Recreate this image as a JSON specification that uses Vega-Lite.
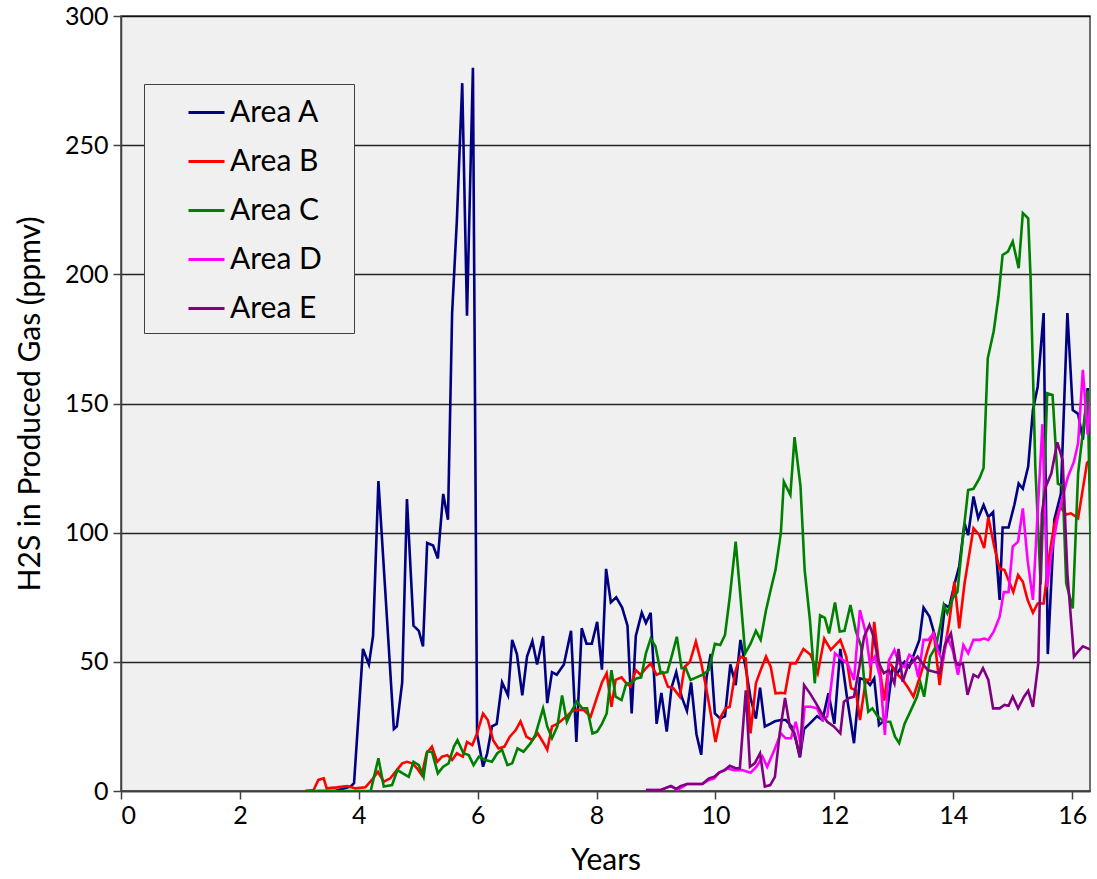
{
"$schema": "https://vega.github.io/schema/vega-lite/v6.json",
"width": 969, "height": 775,
"autosize": {"type": "none"},
"padding": {"left": 121, "top": 16, "right": 7, "bottom": 88},
"background": "white",
"config": {"view": {"fill": "#f0f0f0", "stroke": "#404040", "strokeWidth": 1.5}, "font": "Lato"},
"data": {"values": [
{"area":"Area A","years":3.3,"ppmv":0},{"area":"Area A","years":3.6,"ppmv":0},{"area":"Area A","years":3.86,"ppmv":1.7},{"area":"Area A","years":3.92,"ppmv":3},{"area":"Area A","years":4.07,"ppmv":55},{"area":"Area A","years":4.17,"ppmv":49},{"area":"Area A","years":4.24,"ppmv":60},{"area":"Area A","years":4.33,"ppmv":120},{"area":"Area A","years":4.59,"ppmv":24},{"area":"Area A","years":4.64,"ppmv":25},{"area":"Area A","years":4.73,"ppmv":42},{"area":"Area A","years":4.81,"ppmv":113},{"area":"Area A","years":4.92,"ppmv":64},{"area":"Area A","years":5.01,"ppmv":62},{"area":"Area A","years":5.08,"ppmv":56},{"area":"Area A","years":5.15,"ppmv":96},{"area":"Area A","years":5.25,"ppmv":95},{"area":"Area A","years":5.33,"ppmv":90},{"area":"Area A","years":5.42,"ppmv":115},{"area":"Area A","years":5.5,"ppmv":105},{"area":"Area A","years":5.57,"ppmv":185},{"area":"Area A","years":5.65,"ppmv":221},{"area":"Area A","years":5.74,"ppmv":274},{"area":"Area A","years":5.82,"ppmv":184},{"area":"Area A","years":5.92,"ppmv":280},{"area":"Area A","years":5.99,"ppmv":22},{"area":"Area A","years":6.09,"ppmv":9.4},{"area":"Area A","years":6.16,"ppmv":14.6},{"area":"Area A","years":6.24,"ppmv":25},{"area":"Area A","years":6.32,"ppmv":26},{"area":"Area A","years":6.41,"ppmv":42},{"area":"Area A","years":6.51,"ppmv":37},{"area":"Area A","years":6.58,"ppmv":58.5},{"area":"Area A","years":6.66,"ppmv":53},{"area":"Area A","years":6.75,"ppmv":37},{"area":"Area A","years":6.83,"ppmv":52},{"area":"Area A","years":6.92,"ppmv":58},{"area":"Area A","years":7.0,"ppmv":49},{"area":"Area A","years":7.1,"ppmv":60},{"area":"Area A","years":7.17,"ppmv":34},{"area":"Area A","years":7.25,"ppmv":46},{"area":"Area A","years":7.33,"ppmv":45},{"area":"Area A","years":7.45,"ppmv":49},{"area":"Area A","years":7.57,"ppmv":62},{"area":"Area A","years":7.66,"ppmv":19},{"area":"Area A","years":7.75,"ppmv":63},{"area":"Area A","years":7.83,"ppmv":57},{"area":"Area A","years":7.92,"ppmv":57},{"area":"Area A","years":8.01,"ppmv":65.5},{"area":"Area A","years":8.09,"ppmv":47},{"area":"Area A","years":8.16,"ppmv":86},{"area":"Area A","years":8.24,"ppmv":73},{"area":"Area A","years":8.33,"ppmv":75},{"area":"Area A","years":8.43,"ppmv":71},{"area":"Area A","years":8.52,"ppmv":64},{"area":"Area A","years":8.59,"ppmv":30},{"area":"Area A","years":8.66,"ppmv":60},{"area":"Area A","years":8.76,"ppmv":69},{"area":"Area A","years":8.83,"ppmv":65},{"area":"Area A","years":8.91,"ppmv":69},{"area":"Area A","years":9.01,"ppmv":26},{"area":"Area A","years":9.09,"ppmv":38},{"area":"Area A","years":9.18,"ppmv":23},{"area":"Area A","years":9.26,"ppmv":40},{"area":"Area A","years":9.34,"ppmv":46},{"area":"Area A","years":9.43,"ppmv":36.5},{"area":"Area A","years":9.52,"ppmv":31},{"area":"Area A","years":9.59,"ppmv":42},{"area":"Area A","years":9.68,"ppmv":22},{"area":"Area A","years":9.76,"ppmv":14},{"area":"Area A","years":9.85,"ppmv":44},{"area":"Area A","years":9.92,"ppmv":53},{"area":"Area A","years":9.99,"ppmv":30},{"area":"Area A","years":10.08,"ppmv":28},{"area":"Area A","years":10.16,"ppmv":29},{"area":"Area A","years":10.25,"ppmv":49},{"area":"Area A","years":10.34,"ppmv":41},{"area":"Area A","years":10.42,"ppmv":58.5},{"area":"Area A","years":10.51,"ppmv":47.5},{"area":"Area A","years":10.59,"ppmv":36},{"area":"Area A","years":10.68,"ppmv":28},{"area":"Area A","years":10.75,"ppmv":40},{"area":"Area A","years":10.83,"ppmv":25},{"area":"Area A","years":10.92,"ppmv":26},{"area":"Area A","years":11.0,"ppmv":27},{"area":"Area A","years":11.1,"ppmv":27.5},{"area":"Area A","years":11.18,"ppmv":27.5},{"area":"Area A","years":11.28,"ppmv":25},{"area":"Area A","years":11.35,"ppmv":20},{"area":"Area A","years":11.42,"ppmv":13},{"area":"Area A","years":11.49,"ppmv":24},{"area":"Area A","years":11.58,"ppmv":26},{"area":"Area A","years":11.71,"ppmv":29},{"area":"Area A","years":11.8,"ppmv":27.5},{"area":"Area A","years":11.9,"ppmv":37.8},{"area":"Area A","years":12.0,"ppmv":26},{"area":"Area A","years":12.1,"ppmv":55},{"area":"Area A","years":12.22,"ppmv":35},{"area":"Area A","years":12.33,"ppmv":18.5},{"area":"Area A","years":12.43,"ppmv":43.6},{"area":"Area A","years":12.53,"ppmv":43},{"area":"Area A","years":12.6,"ppmv":41},{"area":"Area A","years":12.67,"ppmv":43.6},{"area":"Area A","years":12.75,"ppmv":25.5},{"area":"Area A","years":12.87,"ppmv":28},{"area":"Area A","years":12.98,"ppmv":48},{"area":"Area A","years":13.06,"ppmv":45.6},{"area":"Area A","years":13.18,"ppmv":50},{"area":"Area A","years":13.26,"ppmv":48},{"area":"Area A","years":13.34,"ppmv":53},{"area":"Area A","years":13.43,"ppmv":58.5},{"area":"Area A","years":13.5,"ppmv":71},{"area":"Area A","years":13.6,"ppmv":67.5},{"area":"Area A","years":13.68,"ppmv":61},{"area":"Area A","years":13.77,"ppmv":53},{"area":"Area A","years":13.86,"ppmv":72},{"area":"Area A","years":13.93,"ppmv":71},{"area":"Area A","years":14.02,"ppmv":80},{"area":"Area A","years":14.1,"ppmv":87},{"area":"Area A","years":14.19,"ppmv":103.6},{"area":"Area A","years":14.25,"ppmv":99},{"area":"Area A","years":14.34,"ppmv":114},{"area":"Area A","years":14.42,"ppmv":105.6},{"area":"Area A","years":14.51,"ppmv":110.7},{"area":"Area A","years":14.59,"ppmv":106},{"area":"Area A","years":14.67,"ppmv":108},{"area":"Area A","years":14.78,"ppmv":74},{"area":"Area A","years":14.83,"ppmv":102},{"area":"Area A","years":14.93,"ppmv":102},{"area":"Area A","years":15.03,"ppmv":111},{"area":"Area A","years":15.1,"ppmv":119},{"area":"Area A","years":15.17,"ppmv":117},{"area":"Area A","years":15.26,"ppmv":125.6},{"area":"Area A","years":15.34,"ppmv":147.5},{"area":"Area A","years":15.42,"ppmv":156.5},{"area":"Area A","years":15.52,"ppmv":185},{"area":"Area A","years":15.59,"ppmv":53},{"area":"Area A","years":15.7,"ppmv":105},{"area":"Area A","years":15.81,"ppmv":115},{"area":"Area A","years":15.92,"ppmv":185},{"area":"Area A","years":16.01,"ppmv":147.5},{"area":"Area A","years":16.1,"ppmv":146},{"area":"Area A","years":16.18,"ppmv":136},{"area":"Area A","years":16.26,"ppmv":156},{"area":"Area A","years":16.32,"ppmv":125},
{"area":"Area B","years":3.1,"ppmv":0},{"area":"Area B","years":3.24,"ppmv":0.4},{"area":"Area B","years":3.32,"ppmv":4.3},{"area":"Area B","years":3.41,"ppmv":4.9},{"area":"Area B","years":3.46,"ppmv":1},{"area":"Area B","years":3.63,"ppmv":1.4},{"area":"Area B","years":3.8,"ppmv":1.9},{"area":"Area B","years":3.95,"ppmv":1},{"area":"Area B","years":4.11,"ppmv":1.4},{"area":"Area B","years":4.22,"ppmv":4.3},{"area":"Area B","years":4.32,"ppmv":7.5},{"area":"Area B","years":4.42,"ppmv":3.6},{"area":"Area B","years":4.53,"ppmv":4.9},{"area":"Area B","years":4.64,"ppmv":8.1},{"area":"Area B","years":4.73,"ppmv":10.7},{"area":"Area B","years":4.81,"ppmv":11.3},{"area":"Area B","years":4.9,"ppmv":10.7},{"area":"Area B","years":4.98,"ppmv":8.8},{"area":"Area B","years":5.06,"ppmv":6.2},{"area":"Area B","years":5.14,"ppmv":14.6},{"area":"Area B","years":5.23,"ppmv":17.2},{"area":"Area B","years":5.32,"ppmv":11.3},{"area":"Area B","years":5.4,"ppmv":13.3},{"area":"Area B","years":5.49,"ppmv":13.9},{"area":"Area B","years":5.57,"ppmv":12},{"area":"Area B","years":5.65,"ppmv":14.6},{"area":"Area B","years":5.75,"ppmv":13.3},{"area":"Area B","years":5.82,"ppmv":19},{"area":"Area B","years":5.91,"ppmv":17.8},{"area":"Area B","years":5.99,"ppmv":22.3},{"area":"Area B","years":6.09,"ppmv":30},{"area":"Area B","years":6.17,"ppmv":27.5},{"area":"Area B","years":6.26,"ppmv":19.7},{"area":"Area B","years":6.35,"ppmv":16.5},{"area":"Area B","years":6.45,"ppmv":17.2},{"area":"Area B","years":6.54,"ppmv":21},{"area":"Area B","years":6.64,"ppmv":23.6},{"area":"Area B","years":6.72,"ppmv":27},{"area":"Area B","years":6.82,"ppmv":21},{"area":"Area B","years":6.92,"ppmv":19.7},{"area":"Area B","years":7.01,"ppmv":22.3},{"area":"Area B","years":7.11,"ppmv":18.5},{"area":"Area B","years":7.17,"ppmv":16},{"area":"Area B","years":7.25,"ppmv":25},{"area":"Area B","years":7.34,"ppmv":26},{"area":"Area B","years":7.42,"ppmv":27.5},{"area":"Area B","years":7.5,"ppmv":29},{"area":"Area B","years":7.59,"ppmv":31},{"area":"Area B","years":7.67,"ppmv":31.4},{"area":"Area B","years":7.78,"ppmv":31.4},{"area":"Area B","years":7.9,"ppmv":28.8},{"area":"Area B","years":8.01,"ppmv":36.5},{"area":"Area B","years":8.09,"ppmv":42},{"area":"Area B","years":8.17,"ppmv":45.6},{"area":"Area B","years":8.25,"ppmv":32.6},{"area":"Area B","years":8.32,"ppmv":43},{"area":"Area B","years":8.42,"ppmv":44},{"area":"Area B","years":8.5,"ppmv":41.7},{"area":"Area B","years":8.57,"ppmv":40.4},{"area":"Area B","years":8.66,"ppmv":46.8},{"area":"Area B","years":8.74,"ppmv":45},{"area":"Area B","years":8.83,"ppmv":47.5},{"area":"Area B","years":8.91,"ppmv":49.4},{"area":"Area B","years":9.01,"ppmv":45},{"area":"Area B","years":9.11,"ppmv":46},{"area":"Area B","years":9.2,"ppmv":40.4},{"area":"Area B","years":9.29,"ppmv":39.8},{"area":"Area B","years":9.4,"ppmv":36.5},{"area":"Area B","years":9.48,"ppmv":48},{"area":"Area B","years":9.57,"ppmv":50},{"area":"Area B","years":9.67,"ppmv":57.8},{"area":"Area B","years":9.75,"ppmv":50.7},{"area":"Area B","years":9.84,"ppmv":40.4},{"area":"Area B","years":9.92,"ppmv":30},{"area":"Area B","years":10.0,"ppmv":19},{"area":"Area B","years":10.09,"ppmv":28.8},{"area":"Area B","years":10.17,"ppmv":32},{"area":"Area B","years":10.24,"ppmv":32.6},{"area":"Area B","years":10.34,"ppmv":46.8},{"area":"Area B","years":10.42,"ppmv":52},{"area":"Area B","years":10.51,"ppmv":51.3},{"area":"Area B","years":10.59,"ppmv":22.3},{"area":"Area B","years":10.68,"ppmv":41.7},{"area":"Area B","years":10.76,"ppmv":46.8},{"area":"Area B","years":10.85,"ppmv":52},{"area":"Area B","years":10.93,"ppmv":48},{"area":"Area B","years":11.01,"ppmv":37.8},{"area":"Area B","years":11.1,"ppmv":38},{"area":"Area B","years":11.17,"ppmv":37.8},{"area":"Area B","years":11.26,"ppmv":49.4},{"area":"Area B","years":11.35,"ppmv":49.4},{"area":"Area B","years":11.48,"ppmv":55},{"area":"Area B","years":11.6,"ppmv":52.7},{"area":"Area B","years":11.72,"ppmv":45.6},{"area":"Area B","years":11.83,"ppmv":59},{"area":"Area B","years":11.94,"ppmv":54.6},{"area":"Area B","years":12.1,"ppmv":58.5},{"area":"Area B","years":12.2,"ppmv":52},{"area":"Area B","years":12.28,"ppmv":39.8},{"area":"Area B","years":12.36,"ppmv":39},{"area":"Area B","years":12.43,"ppmv":27.5},{"area":"Area B","years":12.53,"ppmv":43},{"area":"Area B","years":12.6,"ppmv":43},{"area":"Area B","years":12.67,"ppmv":65.5},{"area":"Area B","years":12.75,"ppmv":49.4},{"area":"Area B","years":12.84,"ppmv":35},{"area":"Area B","years":12.92,"ppmv":50},{"area":"Area B","years":13.04,"ppmv":45.6},{"area":"Area B","years":13.15,"ppmv":43},{"area":"Area B","years":13.23,"ppmv":40.4},{"area":"Area B","years":13.33,"ppmv":36.5},{"area":"Area B","years":13.45,"ppmv":45},{"area":"Area B","years":13.57,"ppmv":54.6},{"area":"Area B","years":13.67,"ppmv":61.7},{"area":"Area B","years":13.77,"ppmv":41},{"area":"Area B","years":13.85,"ppmv":54.6},{"area":"Area B","years":13.93,"ppmv":65},{"area":"Area B","years":14.02,"ppmv":81},{"area":"Area B","years":14.1,"ppmv":63},{"area":"Area B","years":14.19,"ppmv":80.4},{"area":"Area B","years":14.34,"ppmv":101.7},{"area":"Area B","years":14.44,"ppmv":99},{"area":"Area B","years":14.52,"ppmv":94},{"area":"Area B","years":14.59,"ppmv":106},{"area":"Area B","years":14.69,"ppmv":94.6},{"area":"Area B","years":14.78,"ppmv":86},{"area":"Area B","years":14.86,"ppmv":85.6},{"area":"Area B","years":14.94,"ppmv":81},{"area":"Area B","years":15.01,"ppmv":77},{"area":"Area B","years":15.09,"ppmv":83.6},{"area":"Area B","years":15.17,"ppmv":81},{"area":"Area B","years":15.25,"ppmv":74},{"area":"Area B","years":15.34,"ppmv":69},{"area":"Area B","years":15.42,"ppmv":72.6},{"area":"Area B","years":15.52,"ppmv":72.6},{"area":"Area B","years":15.62,"ppmv":92},{"area":"Area B","years":15.7,"ppmv":103},{"area":"Area B","years":15.8,"ppmv":110},{"area":"Area B","years":15.9,"ppmv":107},{"area":"Area B","years":15.98,"ppmv":107.5},{"area":"Area B","years":16.1,"ppmv":105.6},{"area":"Area B","years":16.25,"ppmv":127},{"area":"Area B","years":16.3,"ppmv":128},{"area":"Area B","years":16.35,"ppmv":97},
{"area":"Area C","years":3.1,"ppmv":0},{"area":"Area C","years":4.2,"ppmv":0},{"area":"Area C","years":4.33,"ppmv":12.7},{"area":"Area C","years":4.42,"ppmv":1.7},{"area":"Area C","years":4.56,"ppmv":2.3},{"area":"Area C","years":4.65,"ppmv":8.1},{"area":"Area C","years":4.74,"ppmv":6.8},{"area":"Area C","years":4.84,"ppmv":5.5},{"area":"Area C","years":4.92,"ppmv":11.3},{"area":"Area C","years":5.01,"ppmv":10},{"area":"Area C","years":5.09,"ppmv":5.5},{"area":"Area C","years":5.15,"ppmv":15.2},{"area":"Area C","years":5.23,"ppmv":15.2},{"area":"Area C","years":5.33,"ppmv":6.8},{"area":"Area C","years":5.42,"ppmv":9.4},{"area":"Area C","years":5.51,"ppmv":10.7},{"area":"Area C","years":5.6,"ppmv":17.2},{"area":"Area C","years":5.66,"ppmv":19.7},{"area":"Area C","years":5.76,"ppmv":14.6},{"area":"Area C","years":5.85,"ppmv":13.9},{"area":"Area C","years":5.93,"ppmv":10},{"area":"Area C","years":6.02,"ppmv":13.3},{"area":"Area C","years":6.13,"ppmv":12},{"area":"Area C","years":6.24,"ppmv":11.3},{"area":"Area C","years":6.33,"ppmv":14.6},{"area":"Area C","years":6.41,"ppmv":15.9},{"area":"Area C","years":6.5,"ppmv":10},{"area":"Area C","years":6.58,"ppmv":10.7},{"area":"Area C","years":6.67,"ppmv":16.5},{"area":"Area C","years":6.77,"ppmv":15.2},{"area":"Area C","years":6.89,"ppmv":18.5},{"area":"Area C","years":6.97,"ppmv":21.7},{"area":"Area C","years":7.1,"ppmv":32},{"area":"Area C","years":7.17,"ppmv":25},{"area":"Area C","years":7.25,"ppmv":20.4},{"area":"Area C","years":7.34,"ppmv":25},{"area":"Area C","years":7.42,"ppmv":37},{"area":"Area C","years":7.5,"ppmv":26.8},{"area":"Area C","years":7.59,"ppmv":31.4},{"area":"Area C","years":7.67,"ppmv":34.6},{"area":"Area C","years":7.76,"ppmv":32},{"area":"Area C","years":7.84,"ppmv":32},{"area":"Area C","years":7.93,"ppmv":22.3},{"area":"Area C","years":8.01,"ppmv":23},{"area":"Area C","years":8.09,"ppmv":26},{"area":"Area C","years":8.17,"ppmv":30},{"area":"Area C","years":8.25,"ppmv":46.8},{"area":"Area C","years":8.32,"ppmv":36.5},{"area":"Area C","years":8.42,"ppmv":35.2},{"area":"Area C","years":8.5,"ppmv":41.7},{"area":"Area C","years":8.58,"ppmv":41.7},{"area":"Area C","years":8.67,"ppmv":43.6},{"area":"Area C","years":8.75,"ppmv":44},{"area":"Area C","years":8.83,"ppmv":53.3},{"area":"Area C","years":8.91,"ppmv":59},{"area":"Area C","years":8.99,"ppmv":56},{"area":"Area C","years":9.08,"ppmv":45.6},{"area":"Area C","years":9.19,"ppmv":46},{"area":"Area C","years":9.27,"ppmv":52.7},{"area":"Area C","years":9.35,"ppmv":59.7},{"area":"Area C","years":9.43,"ppmv":47.5},{"area":"Area C","years":9.5,"ppmv":47.5},{"area":"Area C","years":9.58,"ppmv":43},{"area":"Area C","years":9.68,"ppmv":44},{"area":"Area C","years":9.78,"ppmv":45},{"area":"Area C","years":9.89,"ppmv":46.8},{"area":"Area C","years":9.99,"ppmv":57},{"area":"Area C","years":10.08,"ppmv":56.5},{"area":"Area C","years":10.16,"ppmv":60.4},{"area":"Area C","years":10.24,"ppmv":75},{"area":"Area C","years":10.34,"ppmv":96.5},{"area":"Area C","years":10.41,"ppmv":78},{"area":"Area C","years":10.5,"ppmv":53.3},{"area":"Area C","years":10.59,"ppmv":57},{"area":"Area C","years":10.68,"ppmv":62},{"area":"Area C","years":10.76,"ppmv":58.5},{"area":"Area C","years":10.85,"ppmv":70},{"area":"Area C","years":10.93,"ppmv":78},{"area":"Area C","years":11.01,"ppmv":85.6},{"area":"Area C","years":11.1,"ppmv":100},{"area":"Area C","years":11.15,"ppmv":119.7},{"area":"Area C","years":11.26,"ppmv":114.6},{"area":"Area C","years":11.33,"ppmv":137},{"area":"Area C","years":11.43,"ppmv":118},{"area":"Area C","years":11.5,"ppmv":85.6},{"area":"Area C","years":11.59,"ppmv":66},{"area":"Area C","years":11.67,"ppmv":41.7},{"area":"Area C","years":11.76,"ppmv":68},{"area":"Area C","years":11.84,"ppmv":67},{"area":"Area C","years":11.91,"ppmv":61},{"area":"Area C","years":12.01,"ppmv":73},{"area":"Area C","years":12.09,"ppmv":61.7},{"area":"Area C","years":12.17,"ppmv":62},{"area":"Area C","years":12.27,"ppmv":72},{"area":"Area C","years":12.36,"ppmv":62},{"area":"Area C","years":12.45,"ppmv":56},{"area":"Area C","years":12.5,"ppmv":43},{"area":"Area C","years":12.57,"ppmv":30.7},{"area":"Area C","years":12.64,"ppmv":32},{"area":"Area C","years":12.73,"ppmv":28.8},{"area":"Area C","years":12.84,"ppmv":26.8},{"area":"Area C","years":12.94,"ppmv":26.8},{"area":"Area C","years":13.02,"ppmv":21},{"area":"Area C","years":13.09,"ppmv":18.5},{"area":"Area C","years":13.18,"ppmv":26},{"area":"Area C","years":13.29,"ppmv":31.4},{"area":"Area C","years":13.39,"ppmv":36.5},{"area":"Area C","years":13.45,"ppmv":41.7},{"area":"Area C","years":13.51,"ppmv":36.5},{"area":"Area C","years":13.61,"ppmv":52},{"area":"Area C","years":13.71,"ppmv":56},{"area":"Area C","years":13.79,"ppmv":65},{"area":"Area C","years":13.84,"ppmv":72},{"area":"Area C","years":13.9,"ppmv":68.8},{"area":"Area C","years":13.99,"ppmv":74.6},{"area":"Area C","years":14.07,"ppmv":77},{"area":"Area C","years":14.17,"ppmv":100},{"area":"Area C","years":14.25,"ppmv":116.5},{"area":"Area C","years":14.34,"ppmv":117},{"area":"Area C","years":14.44,"ppmv":121},{"area":"Area C","years":14.51,"ppmv":125},{"area":"Area C","years":14.58,"ppmv":167.5},{"area":"Area C","years":14.68,"ppmv":178},{"area":"Area C","years":14.76,"ppmv":191.4},{"area":"Area C","years":14.83,"ppmv":207.5},{"area":"Area C","years":14.92,"ppmv":208.8},{"area":"Area C","years":15.0,"ppmv":212.7},{"area":"Area C","years":15.1,"ppmv":202.4},{"area":"Area C","years":15.17,"ppmv":223.7},{"area":"Area C","years":15.26,"ppmv":221.7},{"area":"Area C","years":15.3,"ppmv":199},{"area":"Area C","years":15.38,"ppmv":125.6},{"area":"Area C","years":15.47,"ppmv":80},{"area":"Area C","years":15.58,"ppmv":154},{"area":"Area C","years":15.67,"ppmv":153.3},{"area":"Area C","years":15.76,"ppmv":119},{"area":"Area C","years":15.84,"ppmv":118},{"area":"Area C","years":15.9,"ppmv":80.4},{"area":"Area C","years":16.01,"ppmv":70.7},{"area":"Area C","years":16.1,"ppmv":123},{"area":"Area C","years":16.26,"ppmv":155},{"area":"Area C","years":16.32,"ppmv":84},
{"area":"Area D","years":8.83,"ppmv":0.4},{"area":"Area D","years":9.08,"ppmv":0.4},{"area":"Area D","years":9.25,"ppmv":1.9},{"area":"Area D","years":9.36,"ppmv":0.4},{"area":"Area D","years":9.52,"ppmv":2.7},{"area":"Area D","years":9.67,"ppmv":2.7},{"area":"Area D","years":9.78,"ppmv":2.7},{"area":"Area D","years":9.89,"ppmv":4.3},{"area":"Area D","years":9.98,"ppmv":4.9},{"area":"Area D","years":10.06,"ppmv":7.1},{"area":"Area D","years":10.2,"ppmv":8.8},{"area":"Area D","years":10.31,"ppmv":8.1},{"area":"Area D","years":10.45,"ppmv":8.1},{"area":"Area D","years":10.59,"ppmv":7.1},{"area":"Area D","years":10.69,"ppmv":9.4},{"area":"Area D","years":10.79,"ppmv":13.3},{"area":"Area D","years":10.87,"ppmv":9.4},{"area":"Area D","years":10.99,"ppmv":15.9},{"area":"Area D","years":11.1,"ppmv":22.3},{"area":"Area D","years":11.18,"ppmv":20.4},{"area":"Area D","years":11.27,"ppmv":20.4},{"area":"Area D","years":11.35,"ppmv":26.8},{"area":"Area D","years":11.44,"ppmv":17.2},{"area":"Area D","years":11.5,"ppmv":32.6},{"area":"Area D","years":11.6,"ppmv":32.6},{"area":"Area D","years":11.71,"ppmv":32},{"area":"Area D","years":11.8,"ppmv":27.5},{"area":"Area D","years":11.88,"ppmv":28.8},{"area":"Area D","years":11.95,"ppmv":41.7},{"area":"Area D","years":12.01,"ppmv":53.3},{"area":"Area D","years":12.11,"ppmv":51.3},{"area":"Area D","years":12.22,"ppmv":49.4},{"area":"Area D","years":12.33,"ppmv":43},{"area":"Area D","years":12.43,"ppmv":70},{"area":"Area D","years":12.53,"ppmv":61},{"area":"Area D","years":12.6,"ppmv":48.8},{"area":"Area D","years":12.68,"ppmv":52},{"area":"Area D","years":12.77,"ppmv":44},{"area":"Area D","years":12.85,"ppmv":21.7},{"area":"Area D","years":12.92,"ppmv":50.7},{"area":"Area D","years":13.01,"ppmv":54.6},{"area":"Area D","years":13.09,"ppmv":49.4},{"area":"Area D","years":13.18,"ppmv":48},{"area":"Area D","years":13.26,"ppmv":52.7},{"area":"Area D","years":13.34,"ppmv":51.3},{"area":"Area D","years":13.41,"ppmv":44},{"area":"Area D","years":13.5,"ppmv":58.5},{"area":"Area D","years":13.58,"ppmv":58.5},{"area":"Area D","years":13.67,"ppmv":61},{"area":"Area D","years":13.74,"ppmv":54.6},{"area":"Area D","years":13.82,"ppmv":50},{"area":"Area D","years":13.9,"ppmv":59.7},{"area":"Area D","years":13.99,"ppmv":54.6},{"area":"Area D","years":14.08,"ppmv":45},{"area":"Area D","years":14.17,"ppmv":56.5},{"area":"Area D","years":14.25,"ppmv":53.3},{"area":"Area D","years":14.34,"ppmv":58.5},{"area":"Area D","years":14.44,"ppmv":58.5},{"area":"Area D","years":14.52,"ppmv":59},{"area":"Area D","years":14.59,"ppmv":58.5},{"area":"Area D","years":14.68,"ppmv":61.7},{"area":"Area D","years":14.78,"ppmv":67.5},{"area":"Area D","years":14.85,"ppmv":77},{"area":"Area D","years":14.93,"ppmv":77},{"area":"Area D","years":15.0,"ppmv":94.6},{"area":"Area D","years":15.09,"ppmv":96.5},{"area":"Area D","years":15.17,"ppmv":109.4},{"area":"Area D","years":15.25,"ppmv":89.4},{"area":"Area D","years":15.34,"ppmv":74},{"area":"Area D","years":15.5,"ppmv":142},{"area":"Area D","years":15.58,"ppmv":79},{"area":"Area D","years":15.65,"ppmv":92},{"area":"Area D","years":15.75,"ppmv":105},{"area":"Area D","years":15.84,"ppmv":114},{"area":"Area D","years":15.93,"ppmv":121.7},{"area":"Area D","years":16.03,"ppmv":127.5},{"area":"Area D","years":16.1,"ppmv":134.6},{"area":"Area D","years":16.18,"ppmv":163},{"area":"Area D","years":16.26,"ppmv":138},{"area":"Area D","years":16.32,"ppmv":154},
{"area":"Area E","years":8.83,"ppmv":0.4},{"area":"Area E","years":9.08,"ppmv":0.4},{"area":"Area E","years":9.25,"ppmv":2},{"area":"Area E","years":9.34,"ppmv":0.8},{"area":"Area E","years":9.41,"ppmv":1.9},{"area":"Area E","years":9.52,"ppmv":2.7},{"area":"Area E","years":9.67,"ppmv":2.7},{"area":"Area E","years":9.78,"ppmv":2.7},{"area":"Area E","years":9.89,"ppmv":4.9},{"area":"Area E","years":9.98,"ppmv":5.5},{"area":"Area E","years":10.06,"ppmv":7.1},{"area":"Area E","years":10.16,"ppmv":8.1},{"area":"Area E","years":10.24,"ppmv":9.8},{"area":"Area E","years":10.34,"ppmv":8.8},{"area":"Area E","years":10.41,"ppmv":8.8},{"area":"Area E","years":10.51,"ppmv":39},{"area":"Area E","years":10.58,"ppmv":9.4},{"area":"Area E","years":10.66,"ppmv":10.7},{"area":"Area E","years":10.75,"ppmv":14.6},{"area":"Area E","years":10.83,"ppmv":1.7},{"area":"Area E","years":10.92,"ppmv":2.3},{"area":"Area E","years":11.0,"ppmv":5.5},{"area":"Area E","years":11.08,"ppmv":22.3},{"area":"Area E","years":11.17,"ppmv":36},{"area":"Area E","years":11.25,"ppmv":25},{"area":"Area E","years":11.33,"ppmv":22.3},{"area":"Area E","years":11.42,"ppmv":13.3},{"area":"Area E","years":11.49,"ppmv":41},{"area":"Area E","years":11.59,"ppmv":37.8},{"area":"Area E","years":11.69,"ppmv":34},{"area":"Area E","years":11.77,"ppmv":30.7},{"area":"Area E","years":11.88,"ppmv":26.8},{"area":"Area E","years":11.99,"ppmv":25},{"area":"Area E","years":12.1,"ppmv":22.3},{"area":"Area E","years":12.16,"ppmv":34.6},{"area":"Area E","years":12.25,"ppmv":36},{"area":"Area E","years":12.33,"ppmv":36.5},{"area":"Area E","years":12.42,"ppmv":48},{"area":"Area E","years":12.5,"ppmv":59.7},{"area":"Area E","years":12.59,"ppmv":64.3},{"area":"Area E","years":12.66,"ppmv":59.7},{"area":"Area E","years":12.74,"ppmv":50},{"area":"Area E","years":12.83,"ppmv":45.6},{"area":"Area E","years":12.92,"ppmv":46.8},{"area":"Area E","years":13.01,"ppmv":41.7},{"area":"Area E","years":13.08,"ppmv":55},{"area":"Area E","years":13.15,"ppmv":42.3},{"area":"Area E","years":13.23,"ppmv":48},{"area":"Area E","years":13.32,"ppmv":50},{"area":"Area E","years":13.4,"ppmv":52},{"area":"Area E","years":13.48,"ppmv":49.4},{"area":"Area E","years":13.57,"ppmv":46.8},{"area":"Area E","years":13.68,"ppmv":46.2},{"area":"Area E","years":13.77,"ppmv":45.6},{"area":"Area E","years":13.86,"ppmv":56.5},{"area":"Area E","years":13.96,"ppmv":61},{"area":"Area E","years":14.04,"ppmv":50},{"area":"Area E","years":14.08,"ppmv":48.8},{"area":"Area E","years":14.16,"ppmv":49.4},{"area":"Area E","years":14.24,"ppmv":37.2},{"area":"Area E","years":14.34,"ppmv":45},{"area":"Area E","years":14.42,"ppmv":44},{"area":"Area E","years":14.5,"ppmv":47.5},{"area":"Area E","years":14.59,"ppmv":43},{"area":"Area E","years":14.67,"ppmv":32},{"area":"Area E","years":14.78,"ppmv":32},{"area":"Area E","years":14.86,"ppmv":33.3},{"area":"Area E","years":14.93,"ppmv":33},{"area":"Area E","years":15.0,"ppmv":36.5},{"area":"Area E","years":15.09,"ppmv":32},{"area":"Area E","years":15.19,"ppmv":36.5},{"area":"Area E","years":15.26,"ppmv":38.8},{"area":"Area E","years":15.34,"ppmv":32.6},{"area":"Area E","years":15.43,"ppmv":49.4},{"area":"Area E","years":15.49,"ppmv":107.5},{"area":"Area E","years":15.56,"ppmv":118},{"area":"Area E","years":15.65,"ppmv":123},{"area":"Area E","years":15.75,"ppmv":135},{"area":"Area E","years":15.84,"ppmv":128},{"area":"Area E","years":15.92,"ppmv":84},{"area":"Area E","years":16.03,"ppmv":52},{"area":"Area E","years":16.1,"ppmv":54},{"area":"Area E","years":16.18,"ppmv":56},{"area":"Area E","years":16.32,"ppmv":54.6}
]},
"mark": {"type": "line", "strokeWidth": 2.6, "clip": true},
"encoding": {
"x": {"field": "years", "type": "quantitative", "scale": {"domain": [0, 16.3], "nice": false, "zero": false},
 "axis": {"values": [0,2,4,6,8,10,12,14,16], "grid": false, "title": "Years", "domainColor": "#404040", "domainWidth": 1.5, "tickColor": "#404040", "tickWidth": 1.5, "tickSize": 8, "labelFontSize": 25, "labelColor": "black", "labelPadding": 4, "titleFontSize": 30, "titleFontWeight": "normal", "titleColor": "black", "titlePadding": 17}},
"y": {"field": "ppmv", "type": "quantitative", "scale": {"domain": [0, 300], "nice": false},
 "axis": {"values": [0,50,100,150,200,250,300], "grid": true, "gridColor": "#000000", "gridWidth": 1.3, "gridOpacity": 0.85, "title": "H2S in Produced Gas (ppmv)", "domainColor": "#404040", "domainWidth": 1.5, "tickColor": "#404040", "tickWidth": 1.5, "tickSize": 8, "labelFontSize": 25, "labelColor": "black", "labelPadding": 5, "titleFontSize": 30, "titleFontWeight": "normal", "titleColor": "black", "titlePadding": 19}},
"color": {"field": "area", "type": "nominal",
 "scale": {"domain": ["Area A","Area B","Area C","Area D","Area E"], "range": ["#000080","#ff0000","#008000","#ff00ff","#800080"]},
 "legend": {"orient": "none", "legendX": 23, "legendY": 68, "title": null, "symbolType": "stroke", "symbolSize": 1296, "symbolStrokeWidth": 3, "symbolOffset": 34, "labelFontSize": 30, "labelColor": "black", "labelOffset": 4, "labelExpr": "datum.label + '\u00a0\u00a0\u00a0\u200b'", "strokeColor": "#404040", "fillColor": "#f0f0f0", "padding": 9, "rowPadding": 14}}
}
}
